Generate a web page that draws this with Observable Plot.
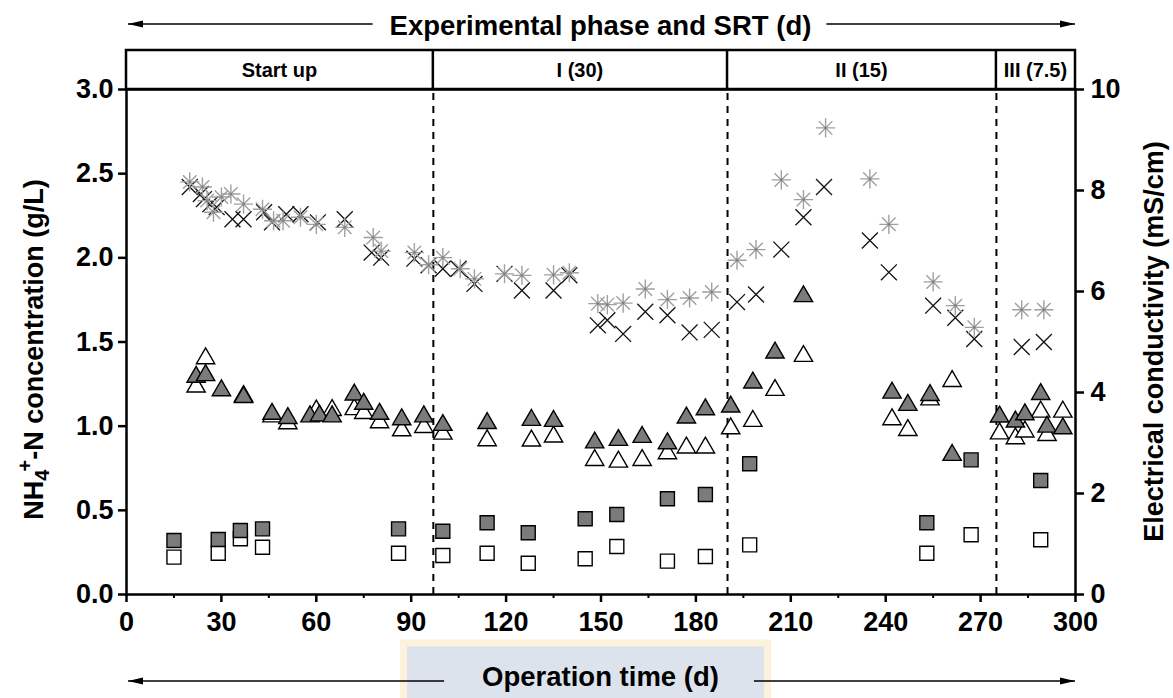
<!DOCTYPE html>
<html><head><meta charset="utf-8">
<script src="https://cdn.jsdelivr.net/npm/d3@7"></script>
<script src="https://cdn.jsdelivr.net/npm/@observablehq/plot@0.6"></script>
<style>
html,body{margin:0;padding:0;background:#fff;}
#chart svg{display:block;}
</style></head><body><div id="chart"></div>
<script>
const FONT = '"Liberation Sans", Arial, Helvetica, sans-serif';

// ---- axes / phases ----
const xDomain = [0, 300];
const yDomain = [0, 3];          // NH4+-N (g/L), left axis
const ecDomain = [0, 10];        // electrical conductivity (mS/cm), right axis
const xTicks = [0, 30, 60, 90, 120, 150, 180, 210, 240, 270, 300];
const xMinorTicks = [15, 45, 75, 105, 135, 165, 195, 225, 255, 285];
const yTicks = [0, 0.5, 1.0, 1.5, 2.0, 2.5, 3.0];
const ecTicks = [0, 2, 4, 6, 8, 10];
const phaseLabels = ["Start up", "I (30)", "II (15)", "III (7.5)"];
const phaseStart = [0, 97, 190, 275];
const phaseEnd = [97, 190, 275, 300];

// ---- conductivity (mS/cm) ----
const starDay = [20,24,25.5,27.5,30,33,37,43,46.5,49.5,55,60,69,78,80.5,91,95.5,100,105.5,110,119.5,125,135,140,149,152,157,164,171,178,185,193,199,207,214,221,235,241,255,262,268,283,290];
const starEC  = [8.17,8.07,7.80,7.57,7.87,7.93,7.73,7.63,7.40,7.40,7.47,7.33,7.27,7.07,6.80,6.77,6.53,6.67,6.45,6.25,6.35,6.32,6.33,6.37,5.76,5.74,5.77,6.05,5.84,5.87,5.99,6.62,6.83,8.21,7.82,9.24,8.23,7.33,6.19,5.72,5.29,5.64,5.64];
const crossDay = [20,23.5,24.5,26.5,28.5,33.5,37,43.5,46,50.5,55,60.5,69,77.5,80.5,91,95.5,100,105,110,119.5,125,135,140,149,152,157,164,171,178,185,193,199,207,214,220.5,235,241,255,262,268,283,290];
const crossEC  = [8.07,7.93,7.83,7.73,7.67,7.43,7.43,7.57,7.37,7.53,7.53,7.37,7.43,6.77,6.67,6.65,6.52,6.45,6.45,6.15,6.35,6.02,6.02,6.32,5.33,5.43,5.16,5.60,5.53,5.19,5.24,5.79,5.94,6.83,7.47,8.07,7.01,6.38,5.72,5.48,5.06,4.90,5.00];

// ---- NH4+-N (g/L) ----
const triFilledDay = [22,25,30,37,46,51,58,61,65,72,75,80,87,94,100,114,128,135,148,155.5,163,171,177,183,191,198,205,214,242,247,254,261,276,281,284,289,291,296];
const triFilled    = [1.31,1.32,1.23,1.19,1.09,1.065,1.075,1.08,1.075,1.205,1.15,1.09,1.058,1.075,1.024,1.035,1.054,1.048,0.92,0.935,0.953,0.915,1.068,1.117,1.133,1.276,1.454,1.789,1.216,1.143,1.202,0.846,1.074,1.044,1.087,1.208,1.014,1.004];
const triOpenDay = [22,25,37,46,51,60,65,72,75,80,87,94,100,114,128,135,148,155.5,163,171,177,183,191,198,205,214,242,247,254,261,276,281,284,289,291,296];
const triOpen    = [1.252,1.42,1.196,1.075,1.034,1.11,1.113,1.118,1.095,1.04,0.992,1.012,0.972,0.933,0.931,0.955,0.816,0.806,0.816,0.856,0.89,0.89,1.004,1.048,1.232,1.434,1.058,0.994,1.176,1.285,0.974,0.945,0.985,1.103,0.964,1.103];
const sqDay    = [15,29,36,43,86,100,114,127,145,155,171,183,197,253,267,289];
const sqFilled = [0.321,0.327,0.38,0.39,0.39,0.376,0.426,0.367,0.45,0.475,0.569,0.594,0.777,0.426,0.80,0.677];
const sqOpen   = [0.222,0.245,0.331,0.281,0.245,0.232,0.245,0.186,0.212,0.285,0.198,0.226,0.295,0.245,0.355,0.325];

// right-axis values are drawn on the left scale via the axis ratio
const k = yDomain[1] / ecDomain[1];
const toRows = (days, vals, f = 1) => days.map((d, i) => ({day: d, v: vals[i] * f}));
const stars = toRows(starDay, starEC, k);
const crosses = toRows(crossDay, crossEC, k);
const trisF = toRows(triFilledDay, triFilled);
const trisO = toRows(triOpenDay, triOpen);
const sqsF = toRows(sqDay, sqFilled);
const sqsO = toRows(sqDay, sqOpen);
const phases = phaseLabels.map((l, i) => ({label: l, start: phaseStart[i], end: phaseEnd[i]}));

const GRAY = "#7b7b7b", STAR = "#a0a0a0";
const axisStyle = {fontSize: 27, fontWeight: "bold", strokeWidth: 2.5, tickSize: 8, label: null};

const plot = Plot.plot({
  width: 1173, height: 698,
  marginLeft: 126, marginRight: 98, marginTop: 89, marginBottom: 104,
  x: {domain: xDomain},
  y: {domain: yDomain},
  style: {fontFamily: FONT, color: "#000", background: "#fff", overflow: "visible"},
  marks: [
    Plot.ruleX(phaseStart.slice(1), {y1: yDomain[0], y2: yDomain[1], stroke: "#000", strokeWidth: 2, strokeDasharray: "7,6"}),
    Plot.dot(sqsO, {x: "day", y: "v", symbol: "square", r: 7.9, fill: "#fff", stroke: "#000", strokeWidth: 1.4}),
    Plot.dot(sqsF, {x: "day", y: "v", symbol: "square", r: 7.9, fill: GRAY, stroke: "#000", strokeWidth: 1.4}),
    Plot.dot(trisO, {x: "day", y: "v", symbol: "triangle", r: 6.8, dy: 3, fill: "#fff", stroke: "#000", strokeWidth: 1.4}),
    Plot.dot(trisF, {x: "day", y: "v", symbol: "triangle", r: 6.8, dy: 3, fill: GRAY, stroke: "#000", strokeWidth: 1.4}),
    Plot.dot(crosses, {x: "day", y: "v", symbol: "times", r: 7.3, stroke: "#111", strokeWidth: 1.3}),
    Plot.dot(stars, {x: "day", y: "v", symbol: "plus", r: 6.2, stroke: STAR, strokeWidth: 1.4}),
    Plot.dot(stars, {x: "day", y: "v", symbol: "times", r: 6.2, stroke: STAR, strokeWidth: 1.4}),
    Plot.dot(stars, {x: "day", y: "v", r: 1.3, fill: "#808080", stroke: null}),
    Plot.frame({stroke: "#000", strokeWidth: 2.5}),
    Plot.axisX(xTicks, {...axisStyle, tickPadding: 9}),
    Plot.axisX(xMinorTicks, {tickSize: 4, strokeWidth: 2, tickFormat: () => "", label: null}),
    Plot.axisY(yTicks, {...axisStyle, anchor: "left", tickPadding: 5, tickFormat: d3.format(".1f")}),
    Plot.axisY(ecTicks.map(v => v * k), {...axisStyle, anchor: "right", tickPadding: 7, tickFormat: d => String(Math.round(d / k))})
  ]
});
document.getElementById("chart").appendChild(plot);

// ---- decorations placed with the plot's own scales ----
const svg = d3.select(plot);
const sx = plot.scale("x"), sy = plot.scale("y");
const X0 = sx.apply(xDomain[0]), X1 = sx.apply(xDomain[1]);
const YT = sy.apply(yDomain[1]), YB = sy.apply(yDomain[0]);
const XC = (X0 + X1) / 2;
const boxH = 39;

// faint watermark behind the bottom title
svg.insert("rect", ":first-child")
  .attr("x", XC - 197).attr("y", YB + 49).attr("width", 364).attr("height", 62)
  .attr("fill", "#dde3ed").attr("stroke", "#fcf2dc").attr("stroke-width", 7);

const g = svg.append("g").attr("font-family", FONT).attr("font-weight", "bold").attr("fill", "#000");

// phase box
g.append("rect").attr("x", X0).attr("y", YT - boxH).attr("width", X1 - X0).attr("height", boxH)
  .attr("fill", "none").attr("stroke", "#000").attr("stroke-width", 2.5);
phaseStart.slice(1).forEach(b => {
  g.append("line").attr("x1", sx.apply(b)).attr("x2", sx.apply(b)).attr("y1", YT - boxH).attr("y2", YT)
    .attr("stroke", "#000").attr("stroke-width", 2.5);
});
phases.forEach(p => {
  g.append("text").attr("x", sx.apply((p.start + p.end) / 2)).attr("y", YT - boxH / 2).attr("dy", "0.36em")
    .attr("text-anchor", "middle").attr("font-size", 20).text(p.label);
});

function arrow(xa, xb, y) { // arrowhead at xb
  g.append("line").attr("x1", xa).attr("x2", xb).attr("y1", y).attr("y2", y).attr("stroke", "#000").attr("stroke-width", 1.3);
  const dir = xb > xa ? 1 : -1;
  g.append("path").attr("d", `M${xb},${y} L${xb - dir * 15},${y - 3.5} L${xb - dir * 15},${y + 3.5} Z`).attr("fill", "#000");
}

// top title + arrows
const tTop = g.append("text").attr("x", XC).attr("y", YT - 54).attr("text-anchor", "middle").attr("font-size", 27.5)
  .text("Experimental phase and SRT (d)");
const wTop = tTop.node().getComputedTextLength();
arrow(XC - wTop / 2 - 17, X0 + 2, YT - 65);
arrow(XC + wTop / 2 + 15, X1, YT - 65);

// bottom title + arrows
const tBot = g.append("text").attr("x", XC).attr("y", YB + 92).attr("text-anchor", "middle").attr("font-size", 27.5)
  .text("Operation time (d)");
const wBot = tBot.node().getComputedTextLength();
arrow(XC - wBot / 2 - 38, X0 + 2, YB + 87);
arrow(XC + wBot / 2 + 35, X1, YB + 87);

// left axis title with sub/superscript
const yMid = (YT + YB) / 2;
const lt = g.append("text").attr("transform", `translate(43,${yMid + 8}) rotate(-90)`).attr("text-anchor", "middle").attr("font-size", 27);
lt.append("tspan").text("NH");
lt.append("tspan").attr("font-size", 20).attr("dy", 6).text("4");
lt.append("tspan").attr("font-size", 20).attr("dy", -17).attr("dx", -2).text("+");
lt.append("tspan").attr("dy", 11).text("-N concentration (g/L)");

// right axis title
g.append("text").attr("transform", `translate(1163,${yMid}) rotate(-90)`).attr("text-anchor", "middle").attr("font-size", 27)
  .text("Electrical conductivity (mS/cm)");
</script>
</body></html>
